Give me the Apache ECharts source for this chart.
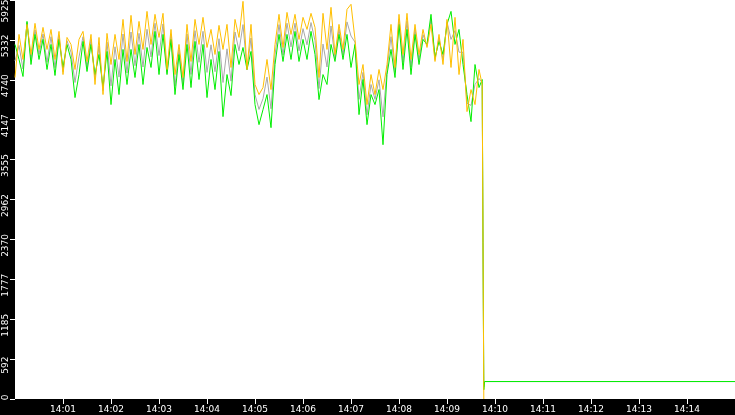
<!DOCTYPE html>
<html>
<head>
<meta charset="utf-8">
<script src="https://cdn.jsdelivr.net/npm/echarts@6/dist/echarts.min.js"></script>
<style>
html,body{margin:0;padding:0;background:#000;}
#c{width:735px;height:415px;}
</style>
</head>
<body>
<div id="c"></div>
<script>
// sampling grid: seconds after 14:00:00
const sampleStep = 5;
// orange series (main part, one value per 5 s)
const orangeValues = [
4774,5414,5042,5563,5116,5578,5191,5518,5191,5488,
5042,5459,4818,5369,5265,4893,5340,5459,5012,5414,
4670,5369,4521,5429,4967,5414,5042,5637,5012,5697,
5116,5607,5191,5756,5265,5712,5369,5727,4893,5488,
4818,5265,4774,5563,5012,5637,5265,5667,5220,5488,
5116,5548,5191,5563,4923,5637,5369,5905,4893,5563,
4670,4521,4625,5042,4595,5265,5712,5220,5741,5414,
5712,5340,5667,5488,5727,5518,4774,5727,5191,5816,
5116,5563,5191,5786,5861,5340,4670,4967,4372,4818,
4521,4893,4595,4967,5563,4923,5712,5116,5727,5042,
5563,5116,5488,5220,5563,5012,5414,4967,5637,4923,
5667,4818,5340,4268,4595,4372,4893
];
// green series
const greenValues = [
5265,5042,4789,5607,4967,5414,5042,5340,4893,5265,
4804,5340,4923,5265,5042,4476,4818,5310,4863,5265,
4818,5116,4625,5161,4372,5042,4521,5191,4670,5191,
4774,5265,4670,5220,4923,5459,4818,5414,4818,5340,
4521,5116,4595,5265,4625,5310,4744,5265,4476,5042,
4595,5161,4193,4818,4506,5265,4967,5220,4893,5161,
4372,4074,4297,4521,4029,4967,5414,5012,5414,5042,
5459,5012,5340,5042,5459,5116,4446,4818,4670,5265,
5012,5414,5042,5414,4923,5265,4223,4744,4074,4521,
4372,4595,3776,4818,5191,4774,5563,4893,5488,4818,
5414,4967,5340,5265,5712,5072,5310,5116,5563,5756,
5265,5488,4967,4521,4119,4967,4625
];
// gray series
const grayValues = [
5020,5250,4900,5590,5050,5480,5120,5420,5000,5380,
4920,5400,4860,5320,5150,4700,5080,5380,4930,5340,
4750,5240,4580,5300,4650,5230,4780,5420,4840,5450,
4950,5430,4930,5490,5080,5580,5100,5570,4850,5410,
4650,5190,4680,5420,4820,5470,5000,5460,4850,5260,
4860,5350,4700,5200,4720,5450,5170,5560,4890,5360,
4520,4300,4460,4780,4310,5110,5560,5110,5580,5230,
5580,5170,5500,5260,5590,5320,4610,5270,4930,5540,
5060,5490,5110,5600,5390,5300,4450,4850,4220,4670,
4450,4740,4190,4890,5380,4850,5640,5000,5610,4930,
5490,5040,5410,5240,5640,5040,5360,5040,5600,5340,
5470,5150,5150,4390,4360,4670,4760
];
// the drop at the end and the flat tail
const tailSeconds = [584, 585, 586, 587, 900];
const orangeTail = [4670, 2318, 0];
const greenTail  = [4744, 2318, 137, 259, 259];
const grayTail   = [4700, 2318, 180, 259, 259];

// axis ticks
const xTickSeconds = [60,120,180,240,300,360,420,480,540,600,660,720,780,840];
const xTickLabels = ['14:01','14:02','14:03','14:04','14:05','14:06','14:07','14:08','14:09','14:10','14:11','14:12','14:13','14:14'];
const yMax = 5925;
const yInterval = 592.5;

function build(main, tail) {
  const out = main.map((v, i) => [i * sampleStep, v]);
  tail.forEach((v, i) => out.push([tailSeconds[i], v]));
  return out;
}

const chart = echarts.init(document.getElementById('c'));
const lblFont = {color:'#fff', fontFamily:'DejaVu Sans', fontSize:9};
chart.setOption({
  animation:false,
  backgroundColor:'#000',
  grid:{left:15,right:0,top:0,bottom:16,show:true,backgroundColor:'#fff',borderWidth:0,
        containLabel:false, outerBoundsMode:'none'},
  xAxis:{
    type:'value', min:0, max:900,
    axisLine:{show:false},
    splitLine:{show:false},
    axisTick:{show:true, length:5, lineStyle:{color:'#fff',width:1}, customValues:xTickSeconds},
    axisLabel:Object.assign({margin:6, customValues:xTickSeconds,
      formatter:v=>xTickLabels[xTickSeconds.indexOf(v)]||''}, lblFont)
  },
  yAxis:{
    type:'value', min:0, max:yMax, interval:yInterval,
    axisLine:{show:false},
    splitLine:{show:false},
    axisTick:{show:true, length:5, lineStyle:{color:'#fff',width:1}},
    axisLabel:Object.assign({rotate:90, margin:5, align:'center', verticalAlign:'bottom',
      padding:[0,12,0,0],
      formatter:v=>{
        const s = String(Math.floor(v+1e-6));
        if (Math.abs(v - yMax) < 1e-6) return '{top|' + s + '}';
        if (v === 0) return '{bot|' + s + '}';
        return s;
      },
      rich:{
        top:Object.assign({padding:[0,10,0,0]}, lblFont),
        bot:Object.assign({padding:[0,0,0,15]}, lblFont)
      }}, lblFont)
  },
  series:[
    {type:'line', data:build(grayValues, grayTail), showSymbol:false, lineStyle:{color:'#a8a8a8',width:1}, z:1},
    {type:'line', data:build(greenValues, greenTail), showSymbol:false, lineStyle:{color:'#00ee00',width:1}, z:2},
    {type:'line', data:build(orangeValues, orangeTail), showSymbol:false, lineStyle:{color:'#ffbf00',width:1}, z:3}
  ]
});
</script>
</body>
</html>
